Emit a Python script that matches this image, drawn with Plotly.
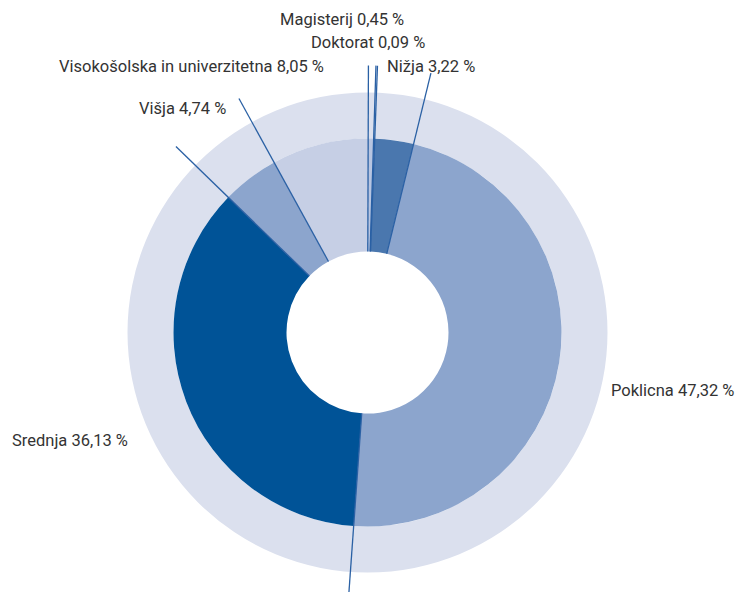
import math
import plotly.graph_objects as go

# ---- data ----
categories = ["Magisterij", "Doktorat", "Nižja", "Poklicna", "Srednja", "Višja",
              "Visokošolska in univerzitetna"]
shares = [0.45, 0.09, 3.22, 47.32, 36.13, 4.74, 8.05]
labels_text = ["Magisterij 0,45 %", "Doktorat 0,09 %", "Nižja 3,22 %", "Poklicna 47,32 %",
               "Srednja 36,13 %", "Višja 4,74 %", "Visokošolska in univerzitetna 8,05 %"]

# ---- styling / layout ----
W, H = 738, 592
colors = ["#b7c5e1", "#8ca5cd", "#4a77ae", "#8ca5cd", "#005397", "#8ca5cd", "#c6cfe5"]
ring_color = "#dbe0ee"
line_color = "#2a60a4"
text_color = "#333333"
cx, cy = 367.5, 332.5
r_outer, r_inner, r_hole, r_line = 240, 194, 81, 267
rotation = 0.2

# label anchor positions (pixels, left edge / vertical middle)
label_pos = {
    "Magisterij": (278, 19),
    "Doktorat": (309, 43),
    "Nižja": (385, 66),
    "Poklicna": (609, 390),
    "Srednja": (10, 440),
    "Višja": (137, 108),
    "Visokošolska in univerzitetna": (57, 66),
}


def px(x):
    return x / W


def py(y):
    return 1 - y / H


def domain(r):
    return dict(x=[px(cx - r), px(cx + r)], y=[py(cy + r), py(cy - r)])


fig = go.Figure()
# outer light ring
fig.add_trace(go.Pie(values=[1], labels=["ring"], domain=domain(r_outer),
                     hole=r_inner / r_outer, marker=dict(colors=[ring_color], line=dict(width=0)),
                     textinfo="none", hoverinfo="skip", sort=False, showlegend=False))
# main donut
fig.add_trace(go.Pie(values=shares, labels=categories, domain=domain(r_inner),
                     hole=r_hole / r_inner, marker=dict(colors=colors, line=dict(width=0)),
                     textinfo="none", sort=False, direction="clockwise", rotation=rotation,
                     showlegend=False))

# leader lines at slice boundaries, computed from the data
total = sum(shares)
shapes = []
cum = 0.0
for v in shares:
    ang = math.radians(rotation + cum / total * 360.0)
    x0 = cx + r_hole * math.sin(ang)
    y0 = cy - r_hole * math.cos(ang)
    x1 = cx + r_line * math.sin(ang)
    y1 = cy - r_line * math.cos(ang)
    shapes.append(dict(type="line", xref="paper", yref="paper", layer="above",
                       x0=px(x0), y0=py(y0), x1=px(x1), y1=py(y1),
                       line=dict(color=line_color, width=1.3)))
    cum += v

annotations = []
for cat, txt in zip(categories, labels_text):
    lx, ly = label_pos[cat]
    annotations.append(dict(x=px(lx), y=py(ly), xref="paper", yref="paper", text=txt,
                            showarrow=False, xanchor="left", yanchor="middle",
                            font=dict(family="Roboto", size=16.5, color=text_color)))

fig.update_layout(width=W, height=H, margin=dict(l=0, r=0, t=0, b=0),
                  paper_bgcolor="white", plot_bgcolor="white",
                  shapes=shapes, annotations=annotations, showlegend=False)
fig.write_html("out.html", config={"displayModeBar": False},
               post_script="document.body.style.margin='0';document.body.style.overflow='hidden';")
